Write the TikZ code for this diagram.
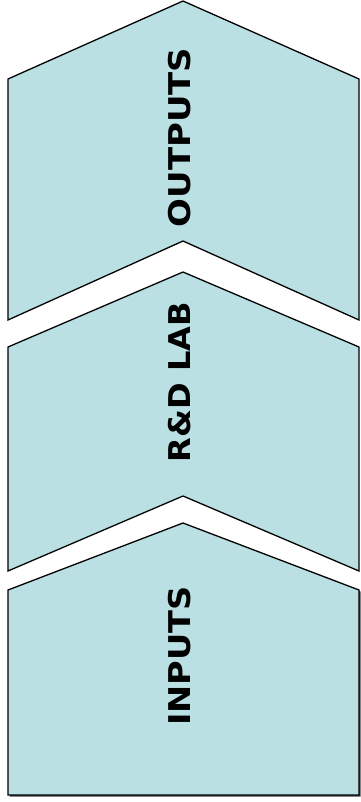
\documentclass[tikz,border=0pt]{standalone}
\usepackage{fontspec}
\setmainfont{DejaVu Sans}
\definecolor{chev}{RGB}{186,224,228}
\begin{document}
\begin{tikzpicture}[x=1pt,y=-1pt,
  chevron/.style={fill=chev,draw=black,line width=1.3pt,line join=miter},
  lbl/.style={rotate=90,font=\bfseries\fontsize{30}{30}\selectfont,inner sep=0pt}]
\useasboundingbox (0,0) rectangle (360,802);
% bottom shadow
\fill[black!75] (9.5,591.5) -- (184.5,524.5) -- (360.5,591.5) -- (360.5,796.5) -- (9.5,796.5) -- cycle;
\draw[chevron] (8,590) -- (183,523) -- (359,590) -- (359,795) -- (8,795) -- cycle;
\draw[chevron] (8,347) -- (183,272) -- (359,347) -- (359,571) -- (183,496) -- (8,571) -- cycle;
\draw[chevron] (8,79) -- (183,1) -- (359,79) -- (359,320) -- (183,241) -- (8,320) -- cycle;
\node[lbl] (outputs) at (180,137.5) {\scalebox{1.13}[1]{OUTPUTS}};
\node[lbl] (rdlab) at (180,382) {\scalebox{1.07}[1]{R\&D LAB}};
\node[lbl] (inputs) at (180,656) {\scalebox{1.12}[1]{INPUTS}};
\end{tikzpicture}
\end{document}
